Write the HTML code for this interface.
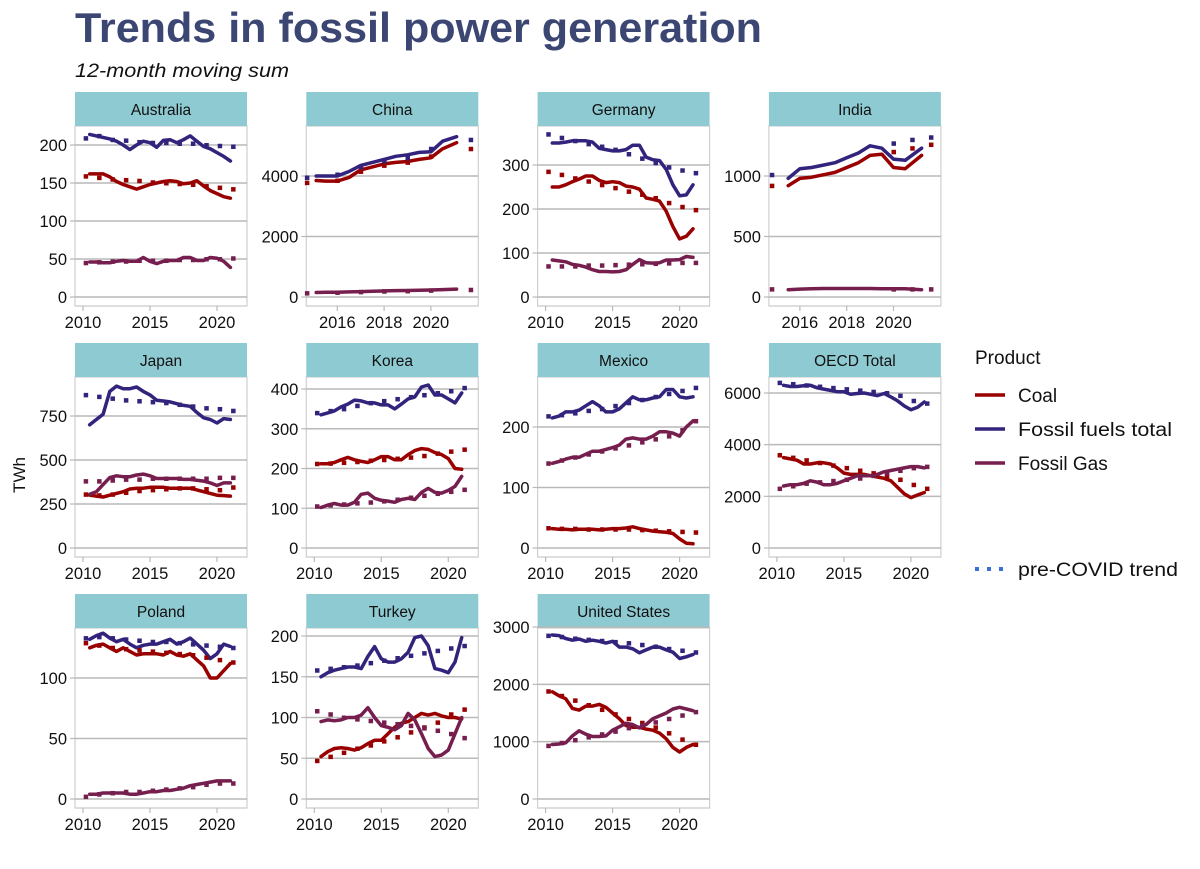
<!DOCTYPE html>
<html><head><meta charset="utf-8">
<style>
body{margin:0;background:#fff;font-family:"Liberation Sans",Arial,sans-serif;}
svg{display:block}
</style></head>
<body>
<svg id="chart" width="1200" height="869" viewBox="0 0 1200 869" xmlns="http://www.w3.org/2000/svg" font-family="Liberation Sans, Arial, sans-serif">
<text x="75" y="42" font-size="42" font-weight="bold" fill="#3b4673" textLength="687" lengthAdjust="spacingAndGlyphs">Trends in fossil power generation</text>
<text x="75" y="77" font-size="19" font-style="italic" fill="#111" textLength="214" lengthAdjust="spacingAndGlyphs">12-month moving sum</text>
<text x="0" y="0" font-size="17" fill="#111" transform="translate(25,475) rotate(-90)" text-anchor="middle">TWh</text>
<g id="panels"></g>
<g>
<text x="975" y="364" font-size="19" fill="#111">Product</text>
<line x1="975" y1="395" x2="1005" y2="395" stroke="#990000" stroke-width="3.5"/>
<text x="1018" y="402" font-size="19" fill="#111">Coal</text>
<line x1="975" y1="429" x2="1005" y2="429" stroke="#33237c" stroke-width="3.5"/>
<text x="1018" y="436" font-size="19" fill="#111" textLength="154" lengthAdjust="spacingAndGlyphs">Fossil fuels total</text>
<line x1="975" y1="463" x2="1005" y2="463" stroke="#761e4e" stroke-width="3.5"/>
<text x="1018" y="470" font-size="19" fill="#111">Fossil Gas</text>
<line x1="975" y1="569" x2="1005" y2="569" stroke="#3a6fd8" stroke-width="4" stroke-dasharray="4 8"/>
<text x="1018" y="576" font-size="19" fill="#111" textLength="160" lengthAdjust="spacingAndGlyphs">pre-COVID trend</text>
</g>
</svg>
<script>
const yearsLong = [2010.5,2011,2011.5,2012,2012.5,2013,2013.5,2014,2014.5,2015,2015.5,2016,2016.5,2017,2017.5,2018,2018.5,2019,2019.5,2020,2020.5,2021];
const trendYearsLong = [2010.2,2011.2,2012.2,2013.2,2014.2,2015.2,2016.2,2017.2,2018.2,2019.2,2020.2,2021.2];
const yearsChina = [2015.1,2015.5,2016,2016.5,2017,2017.5,2018,2018.5,2019,2019.5,2020,2020.5,2021.1];
const trendYearsChina = [2014.7,2016,2017,2018,2019,2020,2021.7];
const yearsIndia = [2015.5,2016,2016.5,2017,2017.5,2018,2018.5,2019,2019.5,2020,2020.5,2021.2];
const trendYearsIndia = [2014.8,2020,2020.8,2021.6];

const countries = ["Australia","China","Germany","India","Japan","Korea","Mexico","OECD Total","Poland","Turkey","United States"];

const ausCoal=[162,162,162,158,152,148,145,142,145,148,150,152,153,152,149,150,153,146,140,136,132,130];
const ausTotal=[214,212,210,208,205,200,194,200,205,203,197,206,207,203,207,212,205,198,195,190,185,179];
const ausGas=[46,46,45,45,47,48,47,47,52,47,44,47,48,48,52,52,48,48,52,51,47,39];
const ausTrendCoal=[159,157,155,154,153,151,150,149,148,146,144,142];
const ausTrendTotal=[209,212,207,206,204,203,203,202,202,200,199,198];
const ausTrendGas=[45,46,47,47,48,48,48,49,49,50,50,51];

const chnCoal=[3850,3830,3830,3950,4200,4300,4400,4450,4480,4550,4600,4900,5100];
const chnTotal=[4000,4000,4000,4150,4350,4450,4550,4650,4700,4780,4800,5150,5300];
const chnGas=[150,155,160,170,180,190,200,210,215,220,230,245,260];
const chnTrendCoal=[3780,3850,4150,4350,4450,4650,4900];
const chnTrendTotal=[3950,4050,4300,4500,4600,4900,5200];
const chnTrendGas=[130,150,170,190,200,220,240];

const deuCoal=[250,250,255,262,268,275,275,265,260,262,260,252,250,245,225,222,218,195,160,132,138,155];
const deuTotal=[350,350,352,355,355,355,352,338,335,332,332,335,345,345,318,312,310,290,255,230,232,255];
const deuGas=[84,82,80,74,72,68,62,58,58,57,58,62,74,85,78,77,78,84,84,85,92,90];
const deuTrendCoal=[285,278,270,263,255,248,240,233,225,214,205,198];
const deuTrendTotal=[370,362,355,348,342,335,325,315,305,295,288,282];
const deuTrendGas=[70,70,70,72,72,73,74,75,76,77,78,78];

const indCoal=[920,980,990,1010,1030,1070,1110,1170,1180,1070,1060,1170];
const indTotal=[980,1060,1070,1090,1110,1150,1190,1250,1230,1140,1130,1230];
const indGas=[60,65,68,70,70,70,70,70,68,68,68,60];
const indTrendCoal=[920,1200,1230,1260];
const indTrendTotal=[1010,1270,1300,1320];
const indTrendGas=[65,65,65,65];

const jpnCoal=[300,295,290,300,310,320,335,340,340,345,345,345,340,340,340,340,330,320,310,300,298,295];
const jpnTotal=[700,730,760,890,920,905,905,915,890,870,840,835,830,820,810,805,770,740,730,710,735,730];
const jpnGas=[305,320,360,400,410,405,405,415,420,410,395,395,395,395,390,390,385,380,370,355,370,370];
const jpnTrendCoal=[305,300,305,315,325,330,335,340,340,335,330,345];
const jpnTrendTotal=[870,860,850,840,835,830,825,815,805,795,790,780];
const jpnTrendGas=[380,380,385,390,390,395,395,395,395,395,400,400];

const korCoal=[212,212,215,222,228,222,218,215,222,230,230,222,222,235,245,250,248,240,235,225,200,198];
const korTotal=[335,340,345,355,362,372,370,365,365,360,360,350,362,375,380,405,410,385,385,375,365,390];
const korGas=[102,108,112,108,108,115,135,138,125,120,118,115,122,125,122,140,150,140,138,145,155,180];
const korTrendCoal=[212,213,215,217,220,222,225,228,232,238,243,248];
const korTrendTotal=[340,345,350,358,365,370,375,380,385,390,395,403];
const korTrendGas=[105,108,110,113,115,118,122,127,132,137,142,147];

const mexCoal=[32,31,31,30,31,31,31,30,31,32,32,33,35,32,30,28,27,26,24,15,8,7];
const mexTotal=[215,218,225,225,228,235,242,235,225,225,230,240,250,245,245,248,250,262,262,250,248,250];
const mexGas=[140,143,147,150,150,155,160,160,163,166,170,180,182,180,180,185,192,192,190,185,200,210];
const mexTrendCoal=[33,32,32,31,31,31,31,30,29,28,27,26];
const mexTrendTotal=[218,220,223,227,230,235,240,245,250,255,260,265];
const mexTrendGas=[140,145,150,155,160,165,170,175,180,185,195,210];

const oecdCoal=[3500,3450,3400,3250,3250,3300,3300,3250,3100,2900,2850,2850,2850,2800,2750,2700,2600,2350,2100,1950,2050,2150];
const oecdTotal=[6300,6250,6250,6280,6300,6200,6150,6100,6050,6050,5950,5980,6000,5950,5900,5980,5850,5700,5500,5350,5450,5650];
const oecdGas=[2400,2450,2450,2500,2600,2550,2450,2450,2500,2600,2700,2800,2800,2800,2850,2950,3000,3050,3100,3150,3150,3100];
const oecdTrendCoal=[3600,3500,3400,3300,3200,3100,3000,2900,2800,2650,2450,2300];
const oecdTrendTotal=[6400,6350,6300,6250,6200,6150,6100,6050,6000,5900,5700,5600];
const oecdTrendGas=[2300,2400,2500,2550,2600,2650,2700,2800,2900,3000,3100,3150];

const polCoal=[125,127,128,125,122,125,122,119,120,120,120,119,122,119,118,120,115,110,100,100,106,112];
const polTotal=[132,135,137,133,130,132,128,125,127,128,128,130,132,128,130,133,128,123,116,120,128,126];
const polGas=[4,4,5,5,5,5,4,4,5,6,6,7,7,8,9,11,12,13,14,15,15,15];
const polTrendCoal=[129,127,125,124,123,122,121,120,119,117,115,113];
const polTrendTotal=[133,134,133,132,131,130,130,129,128,127,126,125];
const polTrendGas=[2,4,5,6,6,7,8,9,10,12,13,13];

const turCoal=[52,58,62,63,62,60,63,68,72,72,80,88,93,95,100,105,103,105,102,100,100,98];
const turTotal=[150,155,158,160,162,162,160,175,187,172,168,168,172,180,198,200,188,160,158,155,168,198];
const turGas=[95,97,96,97,100,100,103,112,100,90,88,85,90,105,97,80,62,52,54,60,80,100];
const turTrendCoal=[47,52,57,62,66,71,76,82,88,94,104,110];
const turTrendTotal=[158,160,162,164,167,170,173,176,179,182,185,188];
const turTrendGas=[108,104,100,98,96,94,92,90,87,84,80,75];

const usaCoal=[1870,1800,1750,1580,1550,1620,1620,1650,1600,1500,1400,1280,1250,1250,1220,1200,1150,1050,900,820,900,950];
const usaTotal=[2860,2850,2800,2770,2790,2750,2770,2750,2720,2750,2650,2650,2620,2550,2600,2650,2650,2600,2560,2450,2480,2520];
const usaGas=[950,960,980,1100,1190,1130,1090,1090,1100,1200,1260,1320,1300,1240,1300,1400,1450,1500,1570,1600,1570,1540];
const usaTrendCoal=[1880,1800,1720,1640,1560,1480,1400,1330,1250,1150,1040,950];
const usaTrendTotal=[2850,2830,2800,2780,2760,2740,2720,2690,2660,2620,2590,2560];
const usaTrendGas=[930,980,1030,1080,1130,1180,1240,1290,1340,1400,1460,1520];

const yTicksAus=[0,50,100,150,200];
const yTicksChn=[0,2000,4000];
const yTicksDeu=[0,100,200,300];
const yTicksInd=[0,500,1000];
const yTicksJpn=[0,250,500,750];
const yTicksKor=[0,100,200,300,400];
const yTicksMex=[0,100,200];
const yTicksOecd=[0,2000,4000,6000];
const yTicksPol=[0,50,100];
const yTicksTur=[0,50,100,150,200];
const yTicksUsa=[0,1000,2000,3000];
const xTicksLong=[2010,2015,2020];
const xTicksShort=[2016,2018,2020];

const COL={coal:"#990000",total:"#33237c",gas:"#761e4e"};
const NS="http://www.w3.org/2000/svg";
const root=document.getElementById("panels");
function mk(tag,attrs,parent){const e=document.createElementNS(NS,tag);for(const k in attrs)e.setAttribute(k,attrs[k]);parent.appendChild(e);return e;}

const panelDefs=[
 {name:"Australia",years:yearsLong,ty:trendYearsLong,s:[ausCoal,ausTotal,ausGas],t:[ausTrendCoal,ausTrendTotal,ausTrendGas],yt:yTicksAus,ymax:200,ypx:152,xt:xTicksLong,short:false},
 {name:"China",years:yearsChina,ty:trendYearsChina,s:[chnCoal,chnTotal,chnGas],t:[chnTrendCoal,chnTrendTotal,chnTrendGas],yt:yTicksChn,ymax:4000,ypx:121,xt:xTicksShort,short:true},
 {name:"Germany",years:yearsLong,ty:trendYearsLong,s:[deuCoal,deuTotal,deuGas],t:[deuTrendCoal,deuTrendTotal,deuTrendGas],yt:yTicksDeu,ymax:300,ypx:132,xt:xTicksLong,short:false},
 {name:"India",years:yearsIndia,ty:trendYearsIndia,s:[indCoal,indTotal,indGas],t:[indTrendCoal,indTrendTotal,indTrendGas],yt:yTicksInd,ymax:1000,ypx:121,xt:xTicksShort,short:true},
 {name:"Japan",years:yearsLong,ty:trendYearsLong,s:[jpnCoal,jpnTotal,jpnGas],t:[jpnTrendCoal,jpnTrendTotal,jpnTrendGas],yt:yTicksJpn,ymax:750,ypx:132,xt:xTicksLong,short:false},
 {name:"Korea",years:yearsLong,ty:trendYearsLong,s:[korCoal,korTotal,korGas],t:[korTrendCoal,korTrendTotal,korTrendGas],yt:yTicksKor,ymax:400,ypx:159,xt:xTicksLong,short:false},
 {name:"Mexico",years:yearsLong,ty:trendYearsLong,s:[mexCoal,mexTotal,mexGas],t:[mexTrendCoal,mexTrendTotal,mexTrendGas],yt:yTicksMex,ymax:200,ypx:121,xt:xTicksLong,short:false},
 {name:"OECD Total",years:yearsLong,ty:trendYearsLong,s:[oecdCoal,oecdTotal,oecdGas],t:[oecdTrendCoal,oecdTrendTotal,oecdTrendGas],yt:yTicksOecd,ymax:6000,ypx:155,xt:xTicksLong,short:false},
 {name:"Poland",years:yearsLong,ty:trendYearsLong,s:[polCoal,polTotal,polGas],t:[polTrendCoal,polTrendTotal,polTrendGas],yt:yTicksPol,ymax:100,ypx:121,xt:xTicksLong,short:false},
 {name:"Turkey",years:yearsLong,ty:trendYearsLong,s:[turCoal,turTotal,turGas],t:[turTrendCoal,turTrendTotal,turTrendGas],yt:yTicksTur,ymax:200,ypx:163,xt:xTicksLong,short:false},
 {name:"United States",years:yearsLong,ty:trendYearsLong,s:[usaCoal,usaTotal,usaGas],t:[usaTrendCoal,usaTrendTotal,usaTrendGas],yt:yTicksUsa,ymax:3000,ypx:172,xt:xTicksLong,short:false}
];
const keys=["coal","total","gas"];

panelDefs.forEach((p,i)=>{
  const col=i%4,row=Math.floor(i/4);
  const x0=75+col*231.3, y0=297+row*251, top=92+row*251, stripH=34, W=172;
  const slug=p.name.toLowerCase().replace(/\s+/g,'-');
  const g=mk("g",{},root);
  
  
  const xs=p.short?(t=>x0+31+(t-2016)*23.4):(t=>x0+8+(t-2010)*13.4);
  const ys=v=>y0-v*p.ypx/p.ymax;
  const bottom=y0+9;
  const fr=mk("rect",{x:x0,y:top+stripH,width:W,height:bottom-top-stripH,fill:"#fff",stroke:"#cfcfcf","stroke-width":1.2},g);
  
  
  const st=mk("rect",{x:x0,y:top,width:W,height:stripH,fill:"#8ecad1"},g);
  
  
  const stt=mk("text",{x:x0+W/2,y:top+23,"font-size":15.5,"text-anchor":"middle",fill:"#111"},g);
  stt.textContent=p.name;
  
  
  p.yt.forEach(v=>{
    const y=ys(v);
    const gl=mk("line",{x1:x0,x2:x0+W,y1:y,y2:y,stroke:"#b9b9b9","stroke-width":1.5},g);
    
    
    mk("line",{x1:x0-5,x2:x0,y1:y,y2:y,stroke:"#b9b9b9","stroke-width":1.2},g);
    const tl=mk("text",{x:x0-8,y:y+6,"font-size":16.5,"text-anchor":"end",fill:"#111"},g);
    tl.textContent=v;
    
    
  });
  mk("line",{x1:x0,x2:x0+W,y1:bottom,y2:bottom,stroke:"#cfcfcf","stroke-width":1.2},g);
  p.xt.forEach(t=>{
    const x=xs(t);
    mk("line",{x1:x,x2:x,y1:bottom,y2:bottom+5,stroke:"#b9b9b9","stroke-width":1.2},g);
    const xl=mk("text",{x:x,y:bottom+22,"font-size":16.5,"text-anchor":"middle",fill:"#111"},g);
    xl.textContent=t;
    
    
  });
  p.s.forEach((arr,k)=>{
    const pts=arr.map((v,j)=>xs(p.years[j]).toFixed(1)+","+ys(v).toFixed(1)).join(" ");
    const ln=mk("polyline",{points:pts,fill:"none",stroke:COL[keys[k]],"stroke-width":3.5,"stroke-linejoin":"round","stroke-linecap":"round"},g);
    
    
  });
  p.t.forEach((arr,k)=>{
    arr.forEach((v,j)=>{
      const sq=mk("rect",{x:xs(p.ty[j])-2,y:ys(v)-2,width:4.5,height:4.5,fill:COL[keys[k]]},g);
      
      
    });
  });
});
</script>
</body></html>
